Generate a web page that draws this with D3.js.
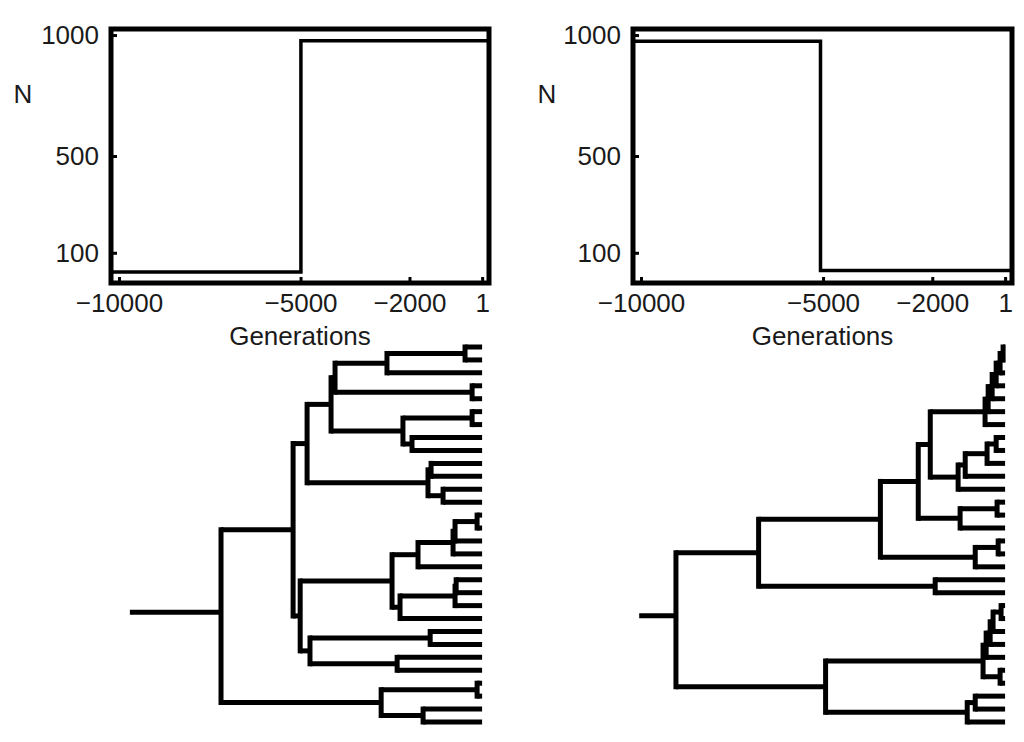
<!DOCTYPE html>
<html>
<head>
<meta charset="utf-8">
<script src="https://cdn.jsdelivr.net/npm/d3@7"></script>
<style>
  html, body { margin: 0; padding: 0; background: #fff; }
  svg { display: block; }
  text { font-family: "Liberation Sans", Arial, sans-serif; fill: #1a1a1a; }
</style>
</head>
<body>
<svg id="chart" width="1024" height="742"></svg>
<script>
// ---------- data ----------
// Top panels: population size N through time (generations)
const genDomain = [-10220, 190];
const nDomain = [-25, 1025];
const xTicks = [-10000, -5000, -2000, 1];
const xTickLabels = ["\u221210000", "\u22125000", "\u22122000", "1"];
const yTicks = [100, 500, 1000];
const yTickLabels = ["100", "500", "1000"];

const leftTimes = [-10220, -4990, 190];
const leftSizes = [20, 976, 976];
const rightTimes = [-10220, -5070, 190];
const rightSizes = [974, 27, 27];

// Bottom panels: genealogies, [node, parent, age in generations]
const leftStubAge = 9700;
const leftTree = [
  ["r", "", 7190],
  ["A", "r", 5205], ["F", "A", 4820], ["D", "F", 4160], ["D1", "D", 4050],
  ["C", "D1", 2620], ["Cc", "C", 470], ["t1", "Cc", 0], ["t2", "Cc", 0], ["t3", "C", 0],
  ["K", "D1", 275], ["t4", "K", 0], ["t5", "K", 0],
  ["L", "D", 2180], ["L1", "L", 275], ["t6", "L1", 0], ["t7", "L1", 0],
  ["L2", "L", 1930], ["t8", "L2", 0], ["t9", "L2", 0],
  ["G", "F", 1490], ["G1", "G", 1405], ["t10", "G1", 0], ["t11", "G1", 0],
  ["G2", "G", 1075], ["t12", "G2", 0], ["t13", "G2", 0],
  ["AL", "A", 5010], ["M", "AL", 2480], ["M1", "M", 1765], ["M11", "M1", 800],
  ["M11i", "M11", 745], ["Mc", "M11i", 138], ["t14", "Mc", 0], ["t15", "Mc", 0],
  ["t16", "M11i", 0], ["t17", "M11", 0], ["t18", "M1", 0],
  ["M2", "M", 2260], ["M21", "M2", 745], ["M21i", "M21", 715], ["t19", "M21i", 0], ["t20", "M21i", 0],
  ["t21", "M21", 0], ["t22", "M2", 0],
  ["N", "AL", 4740], ["N1", "N", 1430], ["t23", "N1", 0], ["t24", "N1", 0],
  ["N2", "N", 2340], ["t25", "N2", 0], ["t26", "N2", 0],
  ["B", "r", 2780], ["Bu", "B", 138], ["t27", "Bu", 0], ["t28", "Bu", 0],
  ["Bl", "B", 1625], ["t29", "Bl", 0], ["t30", "Bl", 0]
];

const rightStubAge = 10050;
const rightTree = [
  ["r", "", 9040],
  ["P", "r", 6770], ["P1", "P", 3425], ["P11", "P1", 2385], ["P111", "P11", 2055],
  ["X1", "P111", 550], ["X1i", "X1", 465], ["c5", "X1i", 355], ["c4", "c5", 245],
  ["c3", "c4", 137], ["c2", "c3", 55], ["t1", "c2", 0], ["t2", "c2", 0], ["t3", "c3", 0],
  ["t4", "c4", 0], ["t5", "c5", 0], ["t6", "X1i", 0], ["t7", "X1", 0],
  ["Y", "P111", 1290], ["Y1", "Y", 1095], ["Y2", "Y1", 495], ["Y3", "Y2", 245],
  ["t8", "Y3", 0], ["t9", "Y3", 0], ["t10", "Y2", 0], ["t11", "Y1", 0], ["t12", "Y", 0],
  ["P112", "P11", 1235], ["P112c", "P112", 220], ["t13", "P112c", 0], ["t14", "P112c", 0], ["t15", "P112", 0],
  ["P12", "P1", 820], ["P12c", "P12", 190], ["t16", "P12c", 0], ["t17", "P12c", 0], ["t18", "P12", 0],
  ["P2", "P", 1920], ["t19", "P2", 0], ["t20", "P2", 0],
  ["Q", "r", 4930], ["Q1", "Q", 605], ["Q1a", "Q1", 520], ["Q1a1", "Q1a", 410], ["Q1a2", "Q1a1", 330],
  ["Q1a3", "Q1a2", 110], ["t21", "Q1a3", 0], ["t22", "Q1a3", 0], ["t23", "Q1a2", 0],
  ["t24", "Q1a1", 0], ["t25", "Q1a", 0],
  ["Q1b", "Q1", 137], ["t26", "Q1b", 0], ["t27", "Q1b", 0],
  ["Q2", "Q", 1040], ["Q2i", "Q2", 820], ["t28", "Q2i", 0], ["t29", "Q2i", 0], ["t30", "Q2", 0]
];

// ---------- drawing ----------
const svg = d3.select("#chart");
const FS = 26;

function drawPanel(frame, times, sizes, tree, stubAge, nLabelX) {
  const x = d3.scaleLinear().domain(genDomain).range([frame.left, frame.right]);
  const y = d3.scaleLinear().domain(nDomain).range([frame.bottom, frame.top]);
  const g = svg.append("g");

  // step line
  const pts = times.map((t, i) => [t, sizes[i]]);
  g.append("path")
    .attr("d", d3.line().x(d => x(d[0])).y(d => y(d[1])).curve(d3.curveStepAfter)(pts))
    .attr("fill", "none").attr("stroke", "#000").attr("stroke-width", 3.5);

  // frame
  g.append("rect")
    .attr("x", frame.left).attr("y", frame.top)
    .attr("width", frame.right - frame.left).attr("height", frame.bottom - frame.top)
    .attr("fill", "none").attr("stroke", "#000").attr("stroke-width", 5);

  // x axis
  const xAxis = d3.axisBottom(x).tickValues(xTicks).tickSize(-4)
    .tickFormat((d, i) => xTickLabels[i]).tickPadding(11);
  const ax = g.append("g").attr("transform", `translate(0,${frame.bottom})`).call(xAxis);
  ax.select(".domain").remove();
  ax.selectAll(".tick line").attr("stroke", "#000").attr("stroke-width", 3)
    .attr("transform", "translate(0,-2)");
  ax.selectAll(".tick text").attr("font-size", FS).attr("fill", "#1a1a1a")
    .attr("font-family", "Liberation Sans, Arial, sans-serif");

  // y axis
  const yAxis = d3.axisLeft(y).tickValues(yTicks).tickSize(-4)
    .tickFormat((d, i) => yTickLabels[i]).tickPadding(12);
  const ay = g.append("g").attr("transform", `translate(${frame.left},0)`).call(yAxis);
  ay.select(".domain").remove();
  ay.selectAll(".tick line").attr("stroke", "#000").attr("stroke-width", 3)
    .attr("transform", "translate(2,0)");
  ay.selectAll(".tick text").attr("font-size", FS).attr("fill", "#1a1a1a")
    .attr("font-family", "Liberation Sans, Arial, sans-serif");

  // axis titles
  g.append("text").attr("x", (frame.left + frame.right) / 2).attr("y", 345)
    .attr("text-anchor", "middle").attr("font-size", FS).text("Generations");
  g.append("text").attr("x", nLabelX).attr("y", 103)
    .attr("text-anchor", "middle").attr("font-size", FS).text("N");

  // genealogy
  const root = d3.stratify().id(d => d[0]).parentId(d => d[1] || null)(tree);
  const leaves = root.leaves();
  const yLeaf = d3.scaleLinear().domain([0, leaves.length - 1]).range([347, 722]);
  leaves.forEach((l, i) => { l.py = yLeaf(i); });
  root.eachAfter(n => {
    if (n.children) n.py = (n.children[0].py + n.children[n.children.length - 1].py) / 2;
  });
  root.each(n => { n.px = x(-n.data[2]); });

  const tg = g.append("g").attr("stroke", "#000").attr("stroke-width", 5).attr("fill", "none");
  const internals = root.descendants().filter(n => n.children);
  // verticals
  tg.selectAll("line.v").data(internals).join("line").attr("class", "v")
    .attr("x1", n => n.px).attr("x2", n => n.px)
    .attr("y1", n => n.children[0].py).attr("y2", n => n.children[n.children.length - 1].py)
    .attr("stroke-linecap", "square");
  // horizontals
  const links = root.links();
  tg.selectAll("line.h").data(links).join("line").attr("class", "h")
    .attr("x1", l => l.source.px).attr("x2", l => l.target.px)
    .attr("y1", l => l.target.py).attr("y2", l => l.target.py)
    .attr("stroke-linecap", "butt");
  // root stub
  tg.append("line")
    .attr("x1", x(-stubAge)).attr("x2", root.px)
    .attr("y1", root.py - 4).attr("y2", root.py - 4);
}

drawPanel({ left: 111, right: 489, top: 29, bottom: 283 }, leftTimes, leftSizes, leftTree, leftStubAge, 23);
drawPanel({ left: 633, right: 1012, top: 29, bottom: 283 }, rightTimes, rightSizes, rightTree, rightStubAge, 547);
</script>
</body>
</html>
